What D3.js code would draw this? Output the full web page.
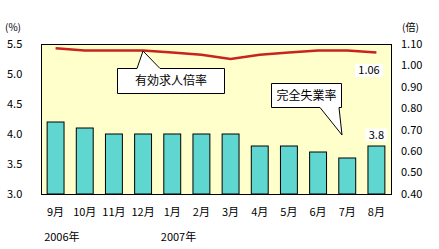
<!DOCTYPE html>
<html>
<head>
<meta charset="utf-8">
<script src="https://cdn.jsdelivr.net/npm/d3@7"></script>
<style>
  body { margin: 0; background: #fff; }
  text { font-family: "Noto Sans CJK JP", sans-serif; font-size: 11px; fill: #000; }
</style>
</head>
<body>
<svg id="vis" width="439" height="249"></svg>
<script>
// plot frame
const MARGINS = {top: 44, right: 48, bottom: 55, left: 41};
const WIDTH = 439, HEIGHT = 249;

const MONTHS = ["9月", "10月", "11月", "12月", "1月", "2月", "3月", "4月", "5月", "6月", "7月", "8月"];
const YEARS = [{label: "2006年", month: "9月"}, {label: "2007年", month: "1月"}];
const UNEMPLOYMENT = [4.2, 4.1, 4.0, 4.0, 4.0, 4.0, 4.0, 3.8, 3.8, 3.7, 3.6, 3.8];   // 完全失業率 (%)
const JOB_RATIO = [1.08, 1.07, 1.07, 1.07, 1.06, 1.05, 1.03, 1.05, 1.06, 1.07, 1.07, 1.06]; // 有効求人倍率 (倍)
const LEFT_TICKS = [3.0, 3.5, 4.0, 4.5, 5.0, 5.5];
const RIGHT_TICKS = [0.40, 0.50, 0.60, 0.70, 0.80, 0.90, 1.00, 1.10];

const svg = d3.select("#vis");
const x0 = MARGINS.left, x1 = WIDTH - MARGINS.right;
const y0 = HEIGHT - MARGINS.bottom, y1 = MARGINS.top;

const xScale = d3.scaleBand().domain(MONTHS).range([x0, x1]).paddingInner(0.42).paddingOuter(0.21);
const yLeft = d3.scaleLinear().domain([3.0, 5.5]).range([y0, y1]);
const yRight = d3.scaleLinear().domain([0.40, 1.10]).range([y0, y1]);

// plot background
svg.append("rect")
    .attr("x", x0).attr("y", y1)
    .attr("width", x1 - x0).attr("height", y0 - y1)
    .attr("fill", "#ffffcc");

// bars
svg.selectAll("rect.bar")
    .data(UNEMPLOYMENT)
    .enter()
    .append("rect")
    .attr("class", "bar")
    .attr("x", (d, i) => xScale(MONTHS[i]))
    .attr("y", d => yLeft(d))
    .attr("width", xScale.bandwidth())
    .attr("height", d => y0 - yLeft(d))
    .attr("fill", "#5fd6d0")
    .attr("stroke", "#000")
    .attr("stroke-width", 1);

// line
const line = d3.line()
    .x((d, i) => xScale(MONTHS[i]) + xScale.bandwidth() / 2)
    .y(d => yRight(d));
svg.append("path")
    .datum(JOB_RATIO)
    .attr("d", line)
    .attr("fill", "none")
    .attr("stroke", "#c8231e")
    .attr("stroke-width", 2.5);

// frame
svg.append("rect")
    .attr("x", x0 + 0.5).attr("y", y1 + 0.5)
    .attr("width", x1 - x0).attr("height", y0 - y1)
    .attr("fill", "none")
    .attr("stroke", "#000");

// left axis labels
svg.selectAll("text.lt")
    .data(LEFT_TICKS)
    .enter().append("text")
    .attr("x", 7)
    .attr("y", d => yLeft(d))
    .attr("dy", "0.35em")
    .text(d => d.toFixed(1));
svg.append("text").attr("x", 5).attr("y", 27).attr("dy", "0.35em").style("font-size", "10px").text("(%)");

// right axis labels
svg.selectAll("text.rt")
    .data(RIGHT_TICKS)
    .enter().append("text")
    .attr("x", 401)
    .attr("y", d => yRight(d))
    .attr("dy", "0.35em")
    .text(d => d.toFixed(2));
svg.append("text").attr("x", 402).attr("y", 27).attr("dy", "0.35em").style("font-size", "10px").text("(倍)");

// month labels
svg.selectAll("text.m")
    .data(MONTHS)
    .enter().append("text")
    .attr("x", d => xScale(d) + xScale.bandwidth() / 2)
    .attr("y", 212)
    .attr("dy", "0.35em")
    .attr("text-anchor", "middle")
    .text(d => d);

// year labels
svg.selectAll("text.y")
    .data(YEARS)
    .enter().append("text")
    .attr("x", d => xScale(d.month) - 3)
    .attr("y", 237)
    .attr("dy", "0.35em")
    .text(d => d.label);

// callouts
function callout(box, tail, label){
    let pts;
    if (tail.bottom) {
        pts = [[box.x, box.y], [box.x + box.w, box.y], [box.x + box.w, box.y + box.h],
            [tail.b2, box.y + box.h], [tail.tx, tail.ty], [tail.b1, box.y + box.h], [box.x, box.y + box.h]];
    } else {
        pts = [[box.x, box.y], [tail.b1, box.y], [tail.tx, tail.ty], [tail.b2, box.y],
            [box.x + box.w, box.y], [box.x + box.w, box.y + box.h], [box.x, box.y + box.h]];
    }
    svg.append("path")
        .attr("d", "M" + pts.map(p => p.join(",")).join("L") + "Z")
        .attr("fill", "#fff")
        .attr("stroke", "#000")
        .attr("stroke-width", 1);
    svg.append("text")
        .attr("x", box.x + box.w / 2)
        .attr("y", box.y + box.h / 2)
        .attr("dy", "0.35em")
        .attr("text-anchor", "middle")
        .style("font-size", "12px")
        .text(label);
}
callout({x: 117.5, y: 68.5, w: 107, h: 25}, {b1: 137, b2: 160, tx: 143, ty: 51}, "有効求人倍率");
callout({x: 271.5, y: 83.5, w: 70, h: 24}, {b1: 320, b2: 339, tx: 342, ty: 135, bottom: true}, "完全失業率");

// value labels
const last = MONTHS.length - 1;
function valueLabel(cx, cy, w, txt){
    svg.append("rect").attr("x", cx - w / 2).attr("y", cy - 6.5).attr("width", w).attr("height", 13).attr("fill", "#fff");
    svg.append("text").attr("x", cx).attr("y", cy).attr("dy", "0.35em").attr("text-anchor", "middle").text(txt);
}
valueLabel(369, yRight(JOB_RATIO[last]) + 18, 28, JOB_RATIO[last].toFixed(2));
valueLabel(xScale(MONTHS[last]) + xScale.bandwidth() / 2, yLeft(UNEMPLOYMENT[last]) - 11, 22, UNEMPLOYMENT[last].toFixed(1));
</script>
</body>
</html>
